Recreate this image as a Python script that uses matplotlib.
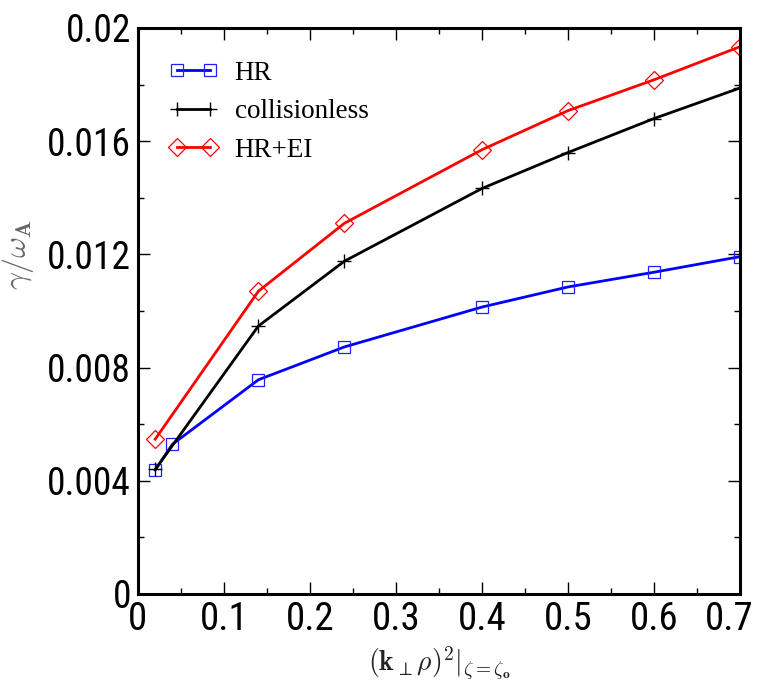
import matplotlib.pyplot as plt
import matplotlib.transforms as mtransforms
from matplotlib.ticker import MultipleLocator

# Growth rate vs perpendicular wavenumber
x_hr = [0.02, 0.04, 0.14, 0.24, 0.4, 0.5, 0.6, 0.7]
y_hr = [0.00438, 0.00529, 0.00757, 0.00873, 0.01014, 0.01085, 0.01137, 0.01192]

x_cl = [0.02, 0.14, 0.24, 0.4, 0.5, 0.6, 0.7]
y_cl = [0.00440, 0.00947, 0.01176, 0.01433, 0.01560, 0.01680, 0.01788]

x_ei = [0.02, 0.14, 0.24, 0.4, 0.5, 0.6, 0.7]
y_ei = [0.00547, 0.01070, 0.01310, 0.01570, 0.01708, 0.01817, 0.01934]

xticks = [0, 0.1, 0.2, 0.3, 0.4, 0.5, 0.6, 0.7]
xtick_labels = ['0', '0.1', '0.2', '0.3', '0.4', '0.5', '0.6', '0.7']
yticks = [0, 0.004, 0.008, 0.012, 0.016, 0.02]
ytick_labels = ['0', '0.004', '0.008', '0.012', '0.016', '0.02']

plt.rcParams['mathtext.fontset'] = 'cm'
tick_font = 'Roboto Condensed'

fig = plt.figure(figsize=(7.59, 6.89), dpi=100)
ax = fig.add_axes([138 / 759, 95 / 689, 602 / 759, 566 / 689])

ax.plot(x_hr, y_hr, color='#0000ff', lw=2, marker='s', ms=8.5, mfc='none',
        mec='#2020ff', mew=0.9, label='HR')
ax.plot(x_cl, y_cl, color='black', lw=2, marker='+', ms=10, mew=1,
        label='collisionless')
ax.plot(x_ei, y_ei, color='#ff0000', lw=2, marker='D', ms=9.5, mfc='none',
        mec='#ff0000', mew=0.9, label='HR+EI')

ax.set_xlim(0, 0.7)
ax.set_ylim(0, 0.02)
ax.set_xticks(xticks)
ax.set_xticklabels(xtick_labels, fontfamily=tick_font, fontsize=28)
ax.set_yticks(yticks)
ax.set_yticklabels(ytick_labels, fontfamily=tick_font, fontsize=27)
ax.xaxis.set_minor_locator(MultipleLocator(0.05))
ax.yaxis.set_minor_locator(MultipleLocator(0.002))
ax.tick_params(which='both', direction='in', top=True, right=True, width=1)
ax.tick_params(which='major', length=8.5, pad=5)
ax.tick_params(which='minor', length=4.5)
for s in ax.spines.values():
    s.set_linewidth(2.2)

# pull the last x label in so it stays on the canvas
last = ax.get_xticklabels()[-1]
last.set_transform(last.get_transform() +
                   mtransforms.ScaledTranslation(-8 / 72, 0, fig.dpi_scale_trans))

ax.set_xlabel(r'$(\mathbf{k}_{\perp}\rho)^{\mathbf{2}}|_{\zeta=\zeta_{\mathbf{o}}}$',
              fontsize=20, color='#222222', labelpad=5)
ax.set_ylabel(r'$\gamma/\omega_{\mathbf{A}}$', fontsize=23, color='#666666')
ax.yaxis.set_label_coords(-0.17, 0.60)

ax.legend(loc='upper left', bbox_to_anchor=(0.01, 0.985), frameon=False,
          numpoints=2, handlelength=1.85, handletextpad=0.6, labelspacing=0.5,
          prop={'family': 'Liberation Serif', 'size': 19.5})

fig.savefig('out.png', dpi=100)
